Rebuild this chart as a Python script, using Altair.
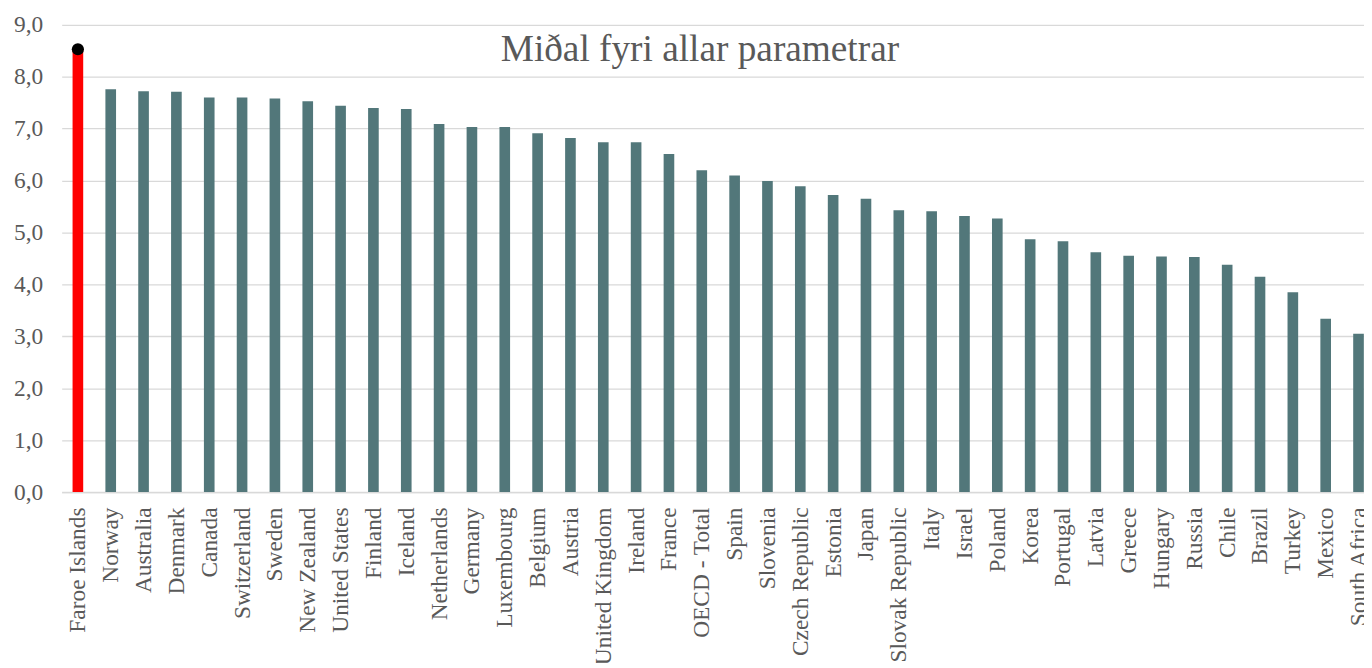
import altair as alt
import pandas as pd

countries = [
    "Faroe Islands", "Norway", "Australia", "Denmark", "Canada", "Switzerland",
    "Sweden", "New Zealand", "United States", "Finland", "Iceland", "Netherlands",
    "Germany", "Luxembourg", "Belgium", "Austria", "United Kingdom", "Ireland",
    "France", "OECD - Total", "Spain", "Slovenia", "Czech Republic", "Estonia",
    "Japan", "Slovak Republic", "Italy", "Israel", "Poland", "Korea", "Portugal",
    "Latvia", "Greece", "Hungary", "Russia", "Chile", "Brazil", "Turkey",
    "Mexico", "South Africa",
]
values = [
    8.53, 7.76, 7.72, 7.71, 7.60, 7.60, 7.58, 7.53, 7.44, 7.40, 7.38, 7.09,
    7.03, 7.03, 6.91, 6.82, 6.74, 6.74, 6.51, 6.20, 6.10, 5.99, 5.89, 5.72,
    5.65, 5.43, 5.41, 5.32, 5.27, 4.87, 4.83, 4.62, 4.55, 4.54, 4.53, 4.38,
    4.15, 3.85, 3.34, 3.05,
]
highlight = "Faroe Islands"
title_text = "Miðal fyri allar parametrar"

df = pd.DataFrame({"idx": list(range(len(countries))), "country": countries, "value": values})
df["group"] = ["hl" if c == highlight else "base" for c in countries]

FONT = "Liberation Serif"
GREY = "#595959"

names_js = "[" + ",".join("'" + c + "'" for c in countries) + "]"

x_enc = alt.X(
    "idx:Q",
    title=None,
    scale=alt.Scale(domain=[-0.4935, 39.167], nice=False, zero=False, padding=0),
    axis=alt.Axis(
        values=list(range(len(countries))),
        labelExpr=names_js + "[datum.value]",
        labelAngle=-90,
        labelFont=FONT,
        labelFontSize=23.5,
        labelColor=GREY,
        labelPadding=15,
        ticks=False,
        grid=False,
        domainColor="#d9d9d9",
        domainWidth=1.6,
        labelOverlap=False,
        labelLimit=0,
        labelBound=False,
        labelFlush=False,
    ),
)
y_enc = alt.Y(
    "value:Q",
    title=None,
    scale=alt.Scale(domain=[0, 9], nice=False),
    axis=alt.Axis(
        values=[0, 1, 2, 3, 4, 5, 6, 7, 8, 9],
        labelExpr="replace(format(datum.value, '.1f'), '.', ',')",
        labelFont=FONT,
        labelFontSize=23.5,
        labelColor=GREY,
        labelPadding=19,
        ticks=False,
        domain=False,
        gridColor="#d9d9d9",
        gridWidth=1.3,
    ),
)

base = alt.Chart(df)

bars = base.mark_bar(width=10.7).encode(
    x=x_enc,
    y=y_enc,
    color=alt.Color(
        "group:N",
        scale=alt.Scale(domain=["hl", "base"], range=["#ff0000", "#52777a"]),
        legend=None,
    ),
)

dot = base.transform_filter(alt.datum.group == "hl").mark_point(
    filled=True, color="black", size=150, opacity=1
).encode(x=x_enc, y=y_enc)

title_df = pd.DataFrame({"t": [title_text]})
title = alt.Chart(title_df).mark_text(
    font=FONT, fontSize=37.5, color=GREY, align="center", baseline="alphabetic"
).encode(text="t:N", x=alt.value(642), y=alt.value(36))

chart = (
    alt.layer(bars, dot, title)
    .properties(
        width=1310,
        height=470,
        autosize=alt.AutoSizeParams(type="none"),
        padding={"left": 54, "top": 15, "right": 0, "bottom": 170},
    )
    .configure_view(stroke=None)
)

chart.save("out.html", embed_options={"renderer": "svg", "actions": False})
